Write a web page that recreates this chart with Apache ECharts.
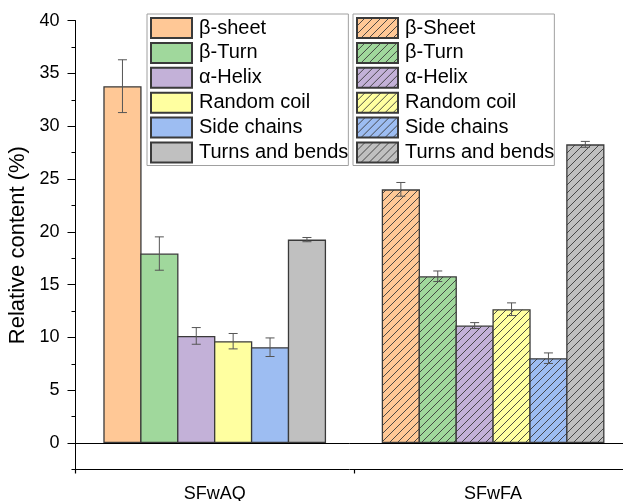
<!DOCTYPE html>
<html>
<head>
<meta charset="utf-8">
<script src="https://cdn.jsdelivr.net/npm/echarts@6/dist/echarts.min.js"></script>
<style>html,body{margin:0;padding:0;background:#fff;}#chart{width:623px;height:501px;}</style>
</head>
<body>
<div id="chart"></div>
<script>
const categories = ['SFwAQ', 'SFwFA'];
const structNames = ['β-sheet', 'β-Turn', 'α-Helix', 'Random coil', 'Side chains', 'Turns and bends'];
const structNamesFA = ['β-Sheet', 'β-Turn', 'α-Helix', 'Random coil', 'Side chains', 'Turns and bends'];
const aqValues = [33.8, 17.95, 10.15, 9.65, 9.08, 19.27];
const aqErrors = [2.5, 1.58, 0.79, 0.73, 0.88, 0.2];
const faValues = [24.03, 15.8, 11.13, 12.68, 8.04, 28.29];
const faErrors = [0.65, 0.5, 0.28, 0.6, 0.5, 0.28];
const colors = ['#FFC896', '#A0D89C', '#C3B1D8', '#FFFFA0', '#9DBDF2', '#C0C0C0'];
const yTicks = [0, 5, 10, 15, 20, 25, 30, 35, 40];
const yMinorTicks = [-2.5, 0, 2.5, 5, 7.5, 10, 12.5, 15, 17.5, 20, 22.5, 25, 27.5, 30, 32.5, 35, 37.5, 40];
const FA_SUFFIX = ' (SFwFA)';

function hatch(color) {
  const s = 8;
  const c = document.createElement('canvas');
  c.width = s; c.height = s;
  const g = c.getContext('2d');
  g.fillStyle = color;
  g.fillRect(0, 0, s, s);
  g.strokeStyle = '#3a3a3a';
  g.lineWidth = 0.9;
  g.beginPath();
  g.moveTo(0, s); g.lineTo(s, 0);
  g.moveTo(-1, 1); g.lineTo(1, -1);
  g.moveTo(s - 1, s + 1); g.lineTo(s + 1, s - 1);
  g.stroke();
  return { image: c, repeat: 'repeat' };
}

const NSLOT = structNames.length;
const BORDER_W = 1.3;
const GAP = -0.035; // negative gap so adjacent borders touch
const barStyleBase = { borderColor: '#3a3a3a', borderWidth: BORDER_W };
const series = [];
structNames.forEach((n, i) => {
  series.push({
    name: n, type: 'bar', stack: 'slot' + i,
    data: [aqValues[i], '-'],
    itemStyle: Object.assign({ color: colors[i] }, barStyleBase),
    barGap: (GAP * 100) + '%', barCategoryGap: '20%',
    emphasis: { disabled: true }
  });
});
structNamesFA.forEach((n, i) => {
  series.push({
    name: n + FA_SUFFIX, type: 'bar', stack: 'slot' + i,
    data: ['-', faValues[i]],
    itemStyle: Object.assign({ color: hatch(colors[i]) }, barStyleBase),
    barGap: (GAP * 100) + '%', barCategoryGap: '20%',
    emphasis: { disabled: true }
  });
});
series[0].markLine = {
  silent: true, symbol: ['none', 'none'], label: { show: false },
  lineStyle: { color: '#000', type: 'solid', width: 1 },
  data: [{ yAxis: 0 }]
};

const errData = [];
aqValues.forEach((v, i) => errData.push([0, i, v, aqErrors[i]]));
faValues.forEach((v, i) => errData.push([1, i, v, faErrors[i]]));
series.push({
  type: 'custom', name: 'err', z: 10, silent: true,
  data: errData,
  encode: { x: 0, y: 2 },
  renderItem: function (params, api) {
    const cat = api.value(0), slot = api.value(1), v = api.value(2), e = api.value(3);
    const band = api.size([1, 0])[0];
    const bw = band * 0.8 / (NSLOT + (NSLOT - 1) * GAP);
    const step = bw * (1 + GAP);
    const c = api.coord([cat, v]);
    const x = c[0] + (slot - (NSLOT - 1) / 2) * step;
    const top = api.coord([cat, v + e])[1];
    const bot = api.coord([cat, v - e])[1];
    const hw = 4.5;
    const st = { stroke: '#555', lineWidth: 1 };
    return {
      type: 'group',
      children: [
        { type: 'line', shape: { x1: x, y1: top, x2: x, y2: bot }, style: st },
        { type: 'line', shape: { x1: x - hw, y1: top, x2: x + hw, y2: top }, style: st },
        { type: 'line', shape: { x1: x - hw, y1: bot, x2: x + hw, y2: bot }, style: st }
      ]
    };
  }
});

const legendCommon = {
  orient: 'vertical', icon: 'rect', itemWidth: 41, itemHeight: 20, itemGap: 2.9,
  top: 14, padding: [3, 0, 2, 3],
  borderColor: '#a0a0a0', borderWidth: 1, backgroundColor: '#fff',
  textStyle: { fontFamily: 'Liberation Sans, Arial, sans-serif', fontSize: 20, lineHeight: 20, color: '#000', padding: [0, 0, 0, 2] },
  selectedMode: false
};

const chart = echarts.init(document.getElementById('chart'), null, { renderer: 'canvas' });
chart.setOption({
  animation: false,
  backgroundColor: '#fff',
  textStyle: { fontFamily: 'Liberation Sans, Arial, sans-serif' },
  grid: { left: 75.5, top: 20.7, width: 556.8, height: 448.8, containLabel: false, outerBoundsMode: 'none' },
  legend: [
    Object.assign({}, legendCommon, { left: 147, data: structNames }),
    Object.assign({}, legendCommon, { left: 353, data: structNamesFA.map(n => n + FA_SUFFIX),
      formatter: n => n.replace(FA_SUFFIX, '') })
  ],
  xAxis: [
    {
      type: 'category', data: categories, position: 'bottom',
      axisLine: { onZero: false, lineStyle: { color: '#000', width: 1 } },
      axisTick: { alignWithLabel: true, length: 8, lineStyle: { color: '#000', width: 1.2 } },
      axisLabel: { color: '#000', fontSize: 18, margin: 16 },
      splitLine: { show: false }
    },
    {
      type: 'category', data: categories, position: 'bottom',
      axisLine: { show: false, onZero: false },
      axisTick: { show: true, length: 4, lineStyle: { color: '#000', width: 1.2 } },
      axisLabel: { show: false },
      splitLine: { show: false }
    }
  ],
  yAxis: [
    {
      type: 'value', position: 'left', min: -2.5, max: 40, interval: 2.5,
      name: 'Relative content (%)', nameLocation: 'middle', nameGap: 46,
      nameTextStyle: { fontSize: 22, color: '#000' },
      axisLine: { show: true, lineStyle: { color: '#000', width: 1 } },
      axisTick: { show: true, length: 8, customValues: yTicks, lineStyle: { color: '#000', width: 1 } },
      axisLabel: { color: '#000', fontSize: 18, margin: 16, customValues: yTicks },
      splitLine: { show: false }
    },
    {
      type: 'value', position: 'left', min: -2.5, max: 40, interval: 2.5,
      axisLine: { show: false },
      axisTick: { show: true, length: 4, customValues: yMinorTicks, lineStyle: { color: '#000', width: 1 } },
      axisLabel: { show: false },
      splitLine: { show: false }
    }
  ],
  series: series
});
</script>
</body>
</html>
